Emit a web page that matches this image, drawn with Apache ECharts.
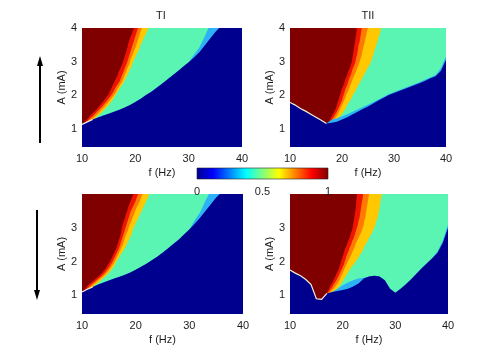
<!DOCTYPE html>
<html>
<head>
<meta charset="utf-8">
<style>
  html, body { margin: 0; padding: 0; background: #fff; }
  #chart { width: 491px; height: 362px; }
</style>
<script src="https://cdn.jsdelivr.net/npm/echarts@6/dist/echarts.min.js"></script>
</head>
<body>
<div id="chart"></div>
<script>
// frequency columns (Hz) and amplitude rows (mA)
const fCols = [10, 11, 12, 13, 14, 15, 16, 17, 18, 19, 20, 21, 22, 23, 24, 25, 26, 27, 28, 29, 30, 31, 32, 33, 34, 35, 36, 37, 38, 39, 40]
const aRows = [0.9, 1.0, 1.1, 1.2, 1.3, 1.4, 1.5, 1.6, 1.7, 1.8, 1.9, 2.0, 2.1, 2.2, 2.3, 2.4, 2.5, 2.6, 2.7, 2.8, 2.9, 3.0, 3.1, 3.2, 3.3, 3.4, 3.5, 3.6, 3.7, 3.8, 3.9, 4.0]
const xTicks = [10, 20, 30, 40]
const yTicksTop = [1, 2, 3, 4]
const yTicksBottom = [1, 2, 3]
const barTicks = [0, 0.5, 1]

// TI, increasing amplitude: per column, top of the blue zone and bottom of the aqua zone
const tiUpBlueTop = [1.12, 1.2, 1.27, 1.33, 1.39, 1.44, 1.5, 1.56, 1.63, 1.7, 1.79, 1.89, 2.0, 2.1, 2.22, 2.34, 2.46, 2.59, 2.72, 2.85, 2.98, 3.12, 3.28, 3.48, 3.68, 3.88, 4.05, 4.1, 4.1, 4.1, 4.1]
const tiUpAquaBot = [1.12, 1.2, 1.27, 1.33, 1.39, 1.44, 1.5, 1.56, 1.63, 1.7, 1.79, 1.89, 2.0, 2.1, 2.22, 2.34, 2.46, 2.59, 2.72, 2.85, 2.98, 3.2, 3.42, 3.75, 4.1, 4.1, 4.1, 4.1, 4.1, 4.1, 4.1]
// per row, right edge (Hz) of each warm band
const tiUpDarkRed = [10, 10, 10.3, 10.6, 11.1, 11.6, 12.3, 12.9, 13.4, 13.9, 14.4, 14.9, 15.2, 15.5, 15.8, 16.1, 16.4, 16.7, 16.9, 17.2, 17.5, 17.7, 17.9, 18.1, 18.3, 18.5, 18.6, 18.8, 19.0, 19.3, 19.5, 19.75]
const tiUpRed = [10, 10, 10.5, 10.9, 11.5, 12.2, 12.8, 13.4, 14.0, 14.5, 15.0, 15.5, 15.9, 16.2, 16.6, 17.0, 17.3, 17.5, 17.8, 18.0, 18.3, 18.5, 18.7, 18.9, 19.1, 19.3, 19.5, 19.7, 19.9, 20.1, 20.3, 20.5]
const tiUpOrange = [10, 10, 10.7, 11.3, 12.0, 12.7, 13.3, 13.9, 14.5, 15.0, 15.5, 16.0, 16.4, 16.7, 17.1, 17.5, 17.8, 18.0, 18.3, 18.5, 18.8, 19.0, 19.2, 19.5, 19.7, 20.0, 20.2, 20.4, 20.6, 20.8, 21.0, 21.25]
const tiUpYellow = [10, 10, 10.9, 11.6, 12.4, 13.1, 13.8, 14.4, 15.0, 15.5, 15.9, 16.3, 16.7, 17.1, 17.5, 17.9, 18.2, 18.5, 18.8, 19.1, 19.4, 19.6, 19.9, 20.2, 20.5, 20.8, 21.0, 21.3, 21.6, 21.9, 22.2, 22.4]

// TII, increasing amplitude
const tiiUpBlueTop = [1.78, 1.7, 1.6, 1.52, 1.43, 1.34, 1.25, 1.15, 1.17, 1.2, 1.27, 1.34, 1.42, 1.5, 1.58, 1.66, 1.75, 1.84, 1.92, 2.0, 2.06, 2.12, 2.18, 2.24, 2.3, 2.36, 2.43, 2.5, 2.56, 2.72, 3.05]
const tiiUpAquaBot = [1.78, 1.7, 1.6, 1.52, 1.43, 1.34, 1.25, 1.15, 1.26, 1.31, 1.37, 1.43, 1.5, 1.57, 1.64, 1.71, 1.79, 1.87, 1.95, 2.03, 2.09, 2.15, 2.21, 2.27, 2.33, 2.39, 2.46, 2.53, 2.6, 2.8, 3.15]
const tiiUpDarkRed = [10, 10, 17.2, 17.5, 17.8, 18.1, 18.5, 18.8, 19.0, 19.2, 19.4, 19.6, 19.8, 20.0, 20.3, 20.5, 20.7, 21.0, 21.2, 21.5, 21.7, 21.9, 22.0, 22.1, 22.2, 22.3, 22.4, 22.5, 22.6, 22.7, 22.8, 22.85]
const tiiUpRed = [10, 10, 17.4, 17.8, 18.2, 18.6, 19.0, 19.3, 19.6, 19.9, 20.1, 20.3, 20.5, 20.7, 21.0, 21.2, 21.4, 21.7, 21.9, 22.1, 22.4, 22.6, 22.7, 22.9, 23.0, 23.1, 23.2, 23.4, 23.5, 23.6, 23.7, 23.8]
const tiiUpOrange = [10, 10, 17.6, 18.1, 18.6, 19.1, 19.4, 19.7, 20.0, 20.3, 20.6, 20.8, 21.1, 21.4, 21.6, 21.9, 22.1, 22.4, 22.7, 22.9, 23.2, 23.4, 23.6, 23.8, 23.9, 24.1, 24.2, 24.4, 24.5, 24.7, 24.8, 25.0]
const tiiUpYellow = [10, 10, 17.8, 18.6, 19.3, 19.8, 20.3, 20.7, 21.0, 21.4, 21.8, 22.1, 22.5, 22.8, 23.2, 23.5, 23.9, 24.2, 24.6, 24.9, 25.3, 25.6, 25.8, 26.0, 26.2, 26.4, 26.6, 26.8, 27.0, 27.2, 27.4, 27.5]

// TI, decreasing amplitude
const tiDownBlueTop = [1.1, 1.18, 1.25, 1.32, 1.38, 1.44, 1.5, 1.55, 1.61, 1.68, 1.76, 1.85, 1.94, 2.04, 2.14, 2.26, 2.39, 2.52, 2.65, 2.8, 2.95, 3.12, 3.3, 3.5, 3.7, 3.9, 4.05, 4.1, 4.1, 4.1, 4.1]
const tiDownAquaBot = [1.1, 1.18, 1.25, 1.32, 1.38, 1.44, 1.5, 1.55, 1.61, 1.68, 1.76, 1.85, 1.94, 2.04, 2.14, 2.26, 2.39, 2.52, 2.65, 2.8, 2.95, 3.22, 3.45, 3.8, 4.1, 4.1, 4.1, 4.1, 4.1, 4.1, 4.1]
const tiDownDarkRed = [10, 10, 10.2, 10.6, 11.1, 11.8, 12.6, 13.3, 13.9, 14.4, 14.8, 15.2, 15.5, 15.8, 16.1, 16.4, 16.6, 16.8, 17.0, 17.2, 17.3, 17.4, 17.6, 17.8, 18.0, 18.2, 18.4, 18.6, 18.8, 19.1, 19.3, 19.6]
const tiDownRed = [10, 10, 10.4, 10.9, 11.6, 12.3, 13.1, 13.8, 14.4, 14.9, 15.3, 15.7, 16.0, 16.3, 16.6, 16.9, 17.1, 17.3, 17.5, 17.7, 17.9, 18.1, 18.3, 18.5, 18.7, 18.9, 19.1, 19.4, 19.7, 20.0, 20.2, 20.5]
const tiDownOrange = [10, 10, 10.6, 11.2, 12.0, 12.7, 13.5, 14.2, 14.8, 15.3, 15.7, 16.1, 16.4, 16.7, 17.0, 17.3, 17.6, 17.8, 18.0, 18.2, 18.5, 18.7, 18.9, 19.2, 19.4, 19.7, 19.9, 20.2, 20.5, 20.8, 21.0, 21.3]
const tiDownYellow = [10, 10, 10.8, 11.5, 12.4, 13.2, 13.9, 14.6, 15.2, 15.7, 16.1, 16.4, 16.8, 17.2, 17.6, 18.0, 18.3, 18.6, 18.9, 19.2, 19.4, 19.6, 19.9, 20.2, 20.5, 20.8, 21.1, 21.4, 21.7, 22.0, 22.3, 22.5]

// TII, decreasing amplitude
const tiiDownBlueTop = [1.75, 1.66, 1.58, 1.47, 1.32, 0.9, 0.88, 1.06, 1.1, 1.13, 1.16, 1.2, 1.26, 1.35, 1.5, 1.56, 1.58, 1.56, 1.45, 1.2, 1.08, 1.2, 1.33, 1.48, 1.64, 1.8, 1.95, 2.1, 2.26, 2.55, 3.0]
const tiiDownAquaBot = [1.75, 1.66, 1.58, 1.47, 1.32, 0.9, 0.88, 1.06, 1.1, 1.2, 1.3, 1.38, 1.45, 1.5, 1.52, 1.56, 1.58, 1.56, 1.45, 1.2, 1.08, 1.2, 1.33, 1.48, 1.64, 1.8, 1.95, 2.1, 2.3, 2.62, 3.1]
const tiiDownDarkRed = [16.4, 16.7, 17.1, 17.4, 17.7, 18.1, 18.4, 18.7, 19.0, 19.3, 19.5, 19.7, 19.9, 20.1, 20.3, 20.5, 20.8, 21.0, 21.3, 21.5, 21.7, 21.9, 22.0, 22.1, 22.2, 22.3, 22.4, 22.5, 22.55, 22.6, 22.65, 22.7]
const tiiDownRed = [16.4, 16.8, 17.3, 17.8, 18.2, 18.6, 19.0, 19.3, 19.6, 19.9, 20.2, 20.4, 20.6, 20.8, 21.1, 21.3, 21.6, 21.8, 22.1, 22.3, 22.5, 22.7, 22.9, 23.0, 23.2, 23.3, 23.4, 23.5, 23.6, 23.7, 23.8, 23.9]
const tiiDownOrange = [16.4, 16.9, 17.6, 18.3, 18.8, 19.2, 19.5, 19.8, 20.1, 20.4, 20.7, 21.0, 21.3, 21.6, 21.9, 22.2, 22.4, 22.7, 23.0, 23.3, 23.6, 23.8, 24.0, 24.1, 24.3, 24.4, 24.5, 24.6, 24.7, 24.8, 24.9, 25.0]
const tiiDownYellow = [16.4, 17.0, 18.2, 19.0, 19.5, 19.9, 20.3, 20.7, 21.1, 21.5, 22.0, 22.5, 22.9, 23.3, 23.7, 24.0, 24.3, 24.7, 25.0, 25.4, 25.7, 26.0, 26.2, 26.4, 26.6, 26.8, 26.9, 27.0, 27.1, 27.2, 27.3, 27.4]

// last column (Hz) where the dark-red zone sits right on the blue zone (pale seam)
const seamEnd = { tiUp: 12, tiiUp: 17, tiDown: 12, tiiDown: 17 }

// jet levels: blue, light blue, aqua, yellow, orange, red, dark red
const levelColors = ['#00008f', '#2cb2f5', '#5af5b2', '#ffc800', '#ff7a00', '#ee1400', '#800000']
const seamColor = '#f2eed6'
const jetStops = [[0, '#00008f'], [0.125, '#0000ff'], [0.375, '#00ffff'], [0.625, '#ffff00'], [0.875, '#ff0000'], [1, '#800000']]

const F_MIN = 10
const F_MAX = 40
const A_MIN = 0.45
const A_MAX = 4
const FONT = 'Liberation Sans, Arial, sans-serif'
const TEXT = '#1e1e1e'

// region below a column profile
function below(profile) {
  return [[F_MIN, A_MIN - 0.2]].concat(fCols.map((f, i) => [f, profile[i]]), [[F_MAX, A_MIN - 0.2]])
}

// warm band spreading from the left border up to its right edge, row by row
function leftOf(edge) {
  const pts = [[F_MIN - 0.2, A_MAX + 0.2], [edge[edge.length - 1], A_MAX + 0.2]]
  for (let j = aRows.length - 1; j >= 0; j--) pts.push([edge[j], aRows[j]])
  pts.push([F_MIN - 0.2, aRows[0]])
  return pts
}

function buildShapes(blueTop, aquaBot, darkRed, red, orange, yellow, seamTo) {
  const seam = fCols.filter((f) => f <= seamTo).map((f, i) => [f, blueTop[i]])
  return [
    { color: levelColors[2], points: [[F_MIN, A_MIN], [F_MAX, A_MIN], [F_MAX, A_MAX], [F_MIN, A_MAX]] },
    { color: levelColors[3], points: leftOf(yellow) },
    { color: levelColors[4], points: leftOf(orange) },
    { color: levelColors[5], points: leftOf(red) },
    { color: levelColors[6], points: leftOf(darkRed) },
    { color: levelColors[1], points: below(aquaBot) },
    { color: levelColors[0], points: below(blueTop) },
    { color: seamColor, line: true, points: seam }
  ]
}

const panels = [
  { grid: { left: 82, top: 28, width: 160, height: 119 }, yTicks: yTicksTop,
    shapes: buildShapes(tiUpBlueTop, tiUpAquaBot, tiUpDarkRed, tiUpRed, tiUpOrange, tiUpYellow, seamEnd.tiUp) },
  { grid: { left: 290, top: 28, width: 156, height: 119 }, yTicks: yTicksTop,
    shapes: buildShapes(tiiUpBlueTop, tiiUpAquaBot, tiiUpDarkRed, tiiUpRed, tiiUpOrange, tiiUpYellow, seamEnd.tiiUp) },
  { grid: { left: 82, top: 194, width: 161, height: 120 }, yTicks: yTicksBottom,
    shapes: buildShapes(tiDownBlueTop, tiDownAquaBot, tiDownDarkRed, tiDownRed, tiDownOrange, tiDownYellow, seamEnd.tiDown) },
  { grid: { left: 290, top: 194, width: 158, height: 120 }, yTicks: yTicksBottom,
    shapes: buildShapes(tiiDownBlueTop, tiiDownAquaBot, tiiDownDarkRed, tiiDownRed, tiiDownOrange, tiiDownYellow, seamEnd.tiiDown) }
]

const labelStyle = { color: TEXT, fontSize: 11, fontFamily: FONT }

function mapSeries(p, i) {
  return {
    type: 'custom',
    xAxisIndex: i,
    yAxisIndex: i,
    silent: true,
    clip: true,
    encode: { x: 0, y: 1 },
    data: p.shapes.map((s, k) => [F_MIN, A_MIN, k]),
    renderItem(params, api) {
      const s = p.shapes[params.dataIndex]
      const points = s.points.map((pt) => api.coord(pt))
      if (s.line) {
        return { type: 'polyline', shape: { points }, style: { stroke: s.color, lineWidth: 1.2, fill: null } }
      }
      return { type: 'polygon', shape: { points }, style: { fill: s.color } }
    }
  }
}

const option = {
  animation: false,
  grid: panels.map((p) => p.grid).concat([{ left: 197, top: 168, width: 131, height: 11 }]),
  xAxis: panels.map((p, i) => ({
    gridIndex: i,
    type: 'value',
    min: F_MIN,
    max: F_MAX,
    interval: 10,
    name: 'f (Hz)',
    nameLocation: 'middle',
    nameGap: 20,
    nameTextStyle: labelStyle,
    axisLine: { show: false },
    axisTick: { show: false },
    splitLine: { show: false },
    axisLabel: { ...labelStyle, margin: 6, customValues: xTicks }
  })).concat([{
    gridIndex: 4,
    type: 'value',
    min: 0,
    max: 1,
    interval: 0.5,
    z: 10,
    axisLine: { show: false },
    axisTick: { show: false },
    splitLine: { show: false },
    axisLabel: { ...labelStyle, margin: 7, customValues: barTicks }
  }]),
  yAxis: panels.map((p, i) => ({
    gridIndex: i,
    type: 'value',
    min: A_MIN,
    max: A_MAX,
    name: 'A (mA)',
    nameLocation: 'middle',
    nameGap: 14,
    nameTextStyle: labelStyle,
    axisLine: { show: false },
    axisTick: { show: false },
    splitLine: { show: false },
    axisLabel: { ...labelStyle, margin: 5, customValues: p.yTicks }
  })).concat([{ gridIndex: 4, type: 'value', min: 0, max: 1, show: false }]),
  series: panels.map(mapSeries).concat([{
    type: 'custom',
    xAxisIndex: 4,
    yAxisIndex: 4,
    silent: true,
    encode: { x: [0, 1], y: [2, 3] },
    data: [[0, 1, 0, 1]],
    renderItem(params, api) {
      const p0 = api.coord([api.value(0), api.value(3)])
      const p1 = api.coord([api.value(1), api.value(2)])
      return {
        type: 'rect',
        shape: { x: p0[0], y: p0[1], width: p1[0] - p0[0], height: p1[1] - p0[1] },
        style: {
          fill: new echarts.graphic.LinearGradient(0, 0, 1, 0, jetStops.map(([offset, color]) => ({ offset, color }))),
          stroke: '#222',
          lineWidth: 0.6
        }
      }
    }
  }]),
  graphic: [
    { type: 'text', x: 161, y: 16, style: { text: 'TI', align: 'center', verticalAlign: 'middle', fill: TEXT, font: '11px ' + FONT } },
    { type: 'text', x: 368, y: 16, style: { text: 'TII', align: 'center', verticalAlign: 'middle', fill: TEXT, font: '11px ' + FONT } },
    { type: 'line', shape: { x1: 40, y1: 143, x2: 40, y2: 63 }, style: { stroke: '#000', lineWidth: 2 } },
    { type: 'polygon', shape: { points: [[40, 56], [37, 66], [43, 66]] }, style: { fill: '#000' } },
    { type: 'line', shape: { x1: 37, y1: 210, x2: 37, y2: 293 }, style: { stroke: '#000', lineWidth: 2 } },
    { type: 'polygon', shape: { points: [[37, 300], [34, 290], [40, 290]] }, style: { fill: '#000' } }
  ]
}

const chart = echarts.init(document.getElementById('chart'))
chart.setOption(option)
</script>
</body>
</html>
